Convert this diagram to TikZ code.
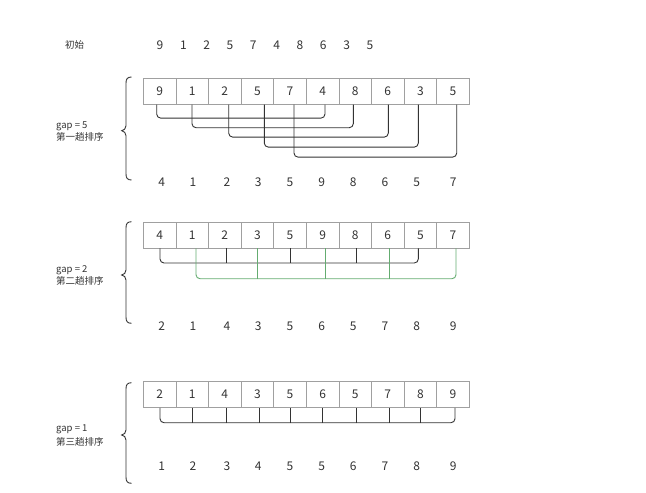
\documentclass[tikz,border=0pt]{standalone}
\usepackage{fontspec}
\setmainfont{Noto Sans CJK SC}
\usetikzlibrary{calc}
\definecolor{ink}{HTML}{333333}
\definecolor{cellline}{HTML}{A0A0A0}
\definecolor{grn}{RGB}{100,172,112}
\tikzset{
 cell/.style={draw=cellline, line width=0.8pt, minimum width=32.6pt, minimum height=26pt, inner sep=0pt, text height=8.6pt, text depth=0pt, font=\fontsize{12}{14}\selectfont, text=ink},
 num/.style={inner sep=0pt, text height=8.6pt, text depth=0pt, font=\fontsize{12}{14}\selectfont, text=ink},
 lbl/.style={inner sep=0pt, anchor=base west, font=\fontsize{9.5}{11}\selectfont, text=ink},
 br/.style={draw=ink, line width=0.9pt, rounded corners=4pt},
 gbr/.style={draw=grn, line width=0.9pt, rounded corners=4pt},
 bracestyle/.style={draw=ink, line width=0.9pt},
}
\begin{document}
\begin{tikzpicture}[x=1pt,y=-1pt]
\useasboundingbox (0,0) rectangle (646,493);

% initial row
\node[lbl] (init) at (65,48.6) {初始};
\foreach \v [count=\i from 0] in {9,1,2,5,7,4,8,6,3,5}
  \node[num] (t\i) at ({160+23.33*\i},45) {\v};

% ---------- pass 1 ----------
\foreach \v [count=\i from 0] in {9,1,2,5,7,4,8,6,3,5}
  \node[cell] (a\i) at ({159.6+32.6*\i},91.3) {\v};
\draw[br] ([xshift=-2.9pt]a0.south) -- ++(0,13.4) -| ([xshift=2.4pt]a5.south);
\draw[br] ([xshift=-0.2pt]a1.south) -- ++(0,23) -| ([xshift=-1.9pt]a6.south);
\draw[br] ([xshift=3.9pt]a2.south) -- ++(0,32.4) -| ([xshift=0.5pt]a7.south);
\draw[br] ([xshift=6.9pt]a3.south) -- ++(0,42.4) -| ([xshift=-2.1pt]a8.south);
\draw[br] ([xshift=4pt]a4.south) -- ++(0,52.4) -| ([xshift=3.7pt]a9.south);
\foreach \v/\x [count=\i from 0] in {4/161.7,1/193,2/227,3/258.3,5/290,9/321.7,8/353.3,6/385,5/416.7,7/453.3}
  \node[num] (r\i) at (\x,182.5) {\v};
\draw[bracestyle] (131.5,77) .. controls (127.5,77) and (126,79) .. (126,83) -- (126,125.7)
  .. controls (126,128.7) and (124,130.2) .. (121.7,130.7)
  .. controls (124,131.2) and (126,132.7) .. (126,135.7) -- (126,174)
  .. controls (126,178) and (127.5,180) .. (131.5,180);
\node[lbl] (g1) at (56,128.5) {gap = 5};
\node[lbl] (p1) at (56,140.5) {第一趟排序};

% ---------- pass 2 ----------
\foreach \v [count=\i from 0] in {4,1,2,3,5,9,8,6,5,7}
  \node[cell] (b\i) at ({159.6+32.6*\i},235) {\v};
\draw[br] ([xshift=0.4pt]b0.south) -- ++(0,14.6) -| ([xshift=-2.1pt]b8.south);
\draw[br] ([xshift=1.2pt]b2.south) -- ++(0,14.6);
\draw[br] (b4.south) -- ++(0,14.6);
\draw[br] ([xshift=0.8pt]b6.south) -- ++(0,14.6);
\draw[gbr] ([xshift=3.8pt]b1.south) -- ++(0,30.3) -| ([xshift=3pt]b9.south);
\draw[gbr] (b3.south) -- ++(0,30.3);
\draw[gbr] ([xshift=2.4pt]b5.south) -- ++(0,30.3);
\draw[gbr] ([xshift=1.2pt]b7.south) -- ++(0,30.3);
\foreach \v/\x [count=\i from 0] in {2/161.7,1/193,4/227,3/258.3,5/290,6/321.7,5/353.3,7/385,8/416.7,9/453.3}
  \node[num] (s\i) at (\x,326) {\v};
\draw[bracestyle] (131.5,221.7) .. controls (127.5,221.7) and (126,223.7) .. (126,227.7) -- (126,270)
  .. controls (126,273) and (124,274.5) .. (121.7,275)
  .. controls (124,275.5) and (126,277) .. (126,280) -- (126,317.3)
  .. controls (126,321.3) and (127.5,323.3) .. (131.5,323.3);
\node[lbl] (g2) at (56,272.5) {gap = 2};
\node[lbl] (p2) at (56,284) {第二趟排序};

% ---------- pass 3 ----------
\foreach \v [count=\i from 0] in {2,1,4,3,5,6,5,7,8,9}
  \node[cell] (c\i) at ({159.6+32.6*\i},394.5) {\v};
\draw[br] ([xshift=0.4pt]c0.south) -- ++(0,14.8) -| ([xshift=2pt]c9.south);
\foreach \k/\s in {1/0.5,2/1.2,3/1.6,4/0,5/0.1,6/0.8,7/1.5,8/-0.4}
  \draw[br] ([xshift=\s pt]c\k.south) -- ++(0,14.8);
\foreach \v/\x [count=\i from 0] in {1/161.7,2/193,3/227,4/258.3,5/290,5/321.7,6/353.3,7/385,8/416.7,9/453.3}
  \node[num] (u\i) at (\x,465.7) {\v};
\draw[bracestyle] (131.5,382.7) .. controls (127.5,382.7) and (126,384.7) .. (126,388.7) -- (126,430)
  .. controls (126,433) and (124,434.5) .. (121.7,435)
  .. controls (124,435.5) and (126,437) .. (126,440) -- (126,477.3)
  .. controls (126,481.3) and (127.5,483.3) .. (131.5,483.3);
\node[lbl] (g3) at (56,431) {gap = 1};
\node[lbl] (p3) at (56,445.5) {第三趟排序};
\end{tikzpicture}
\end{document}
